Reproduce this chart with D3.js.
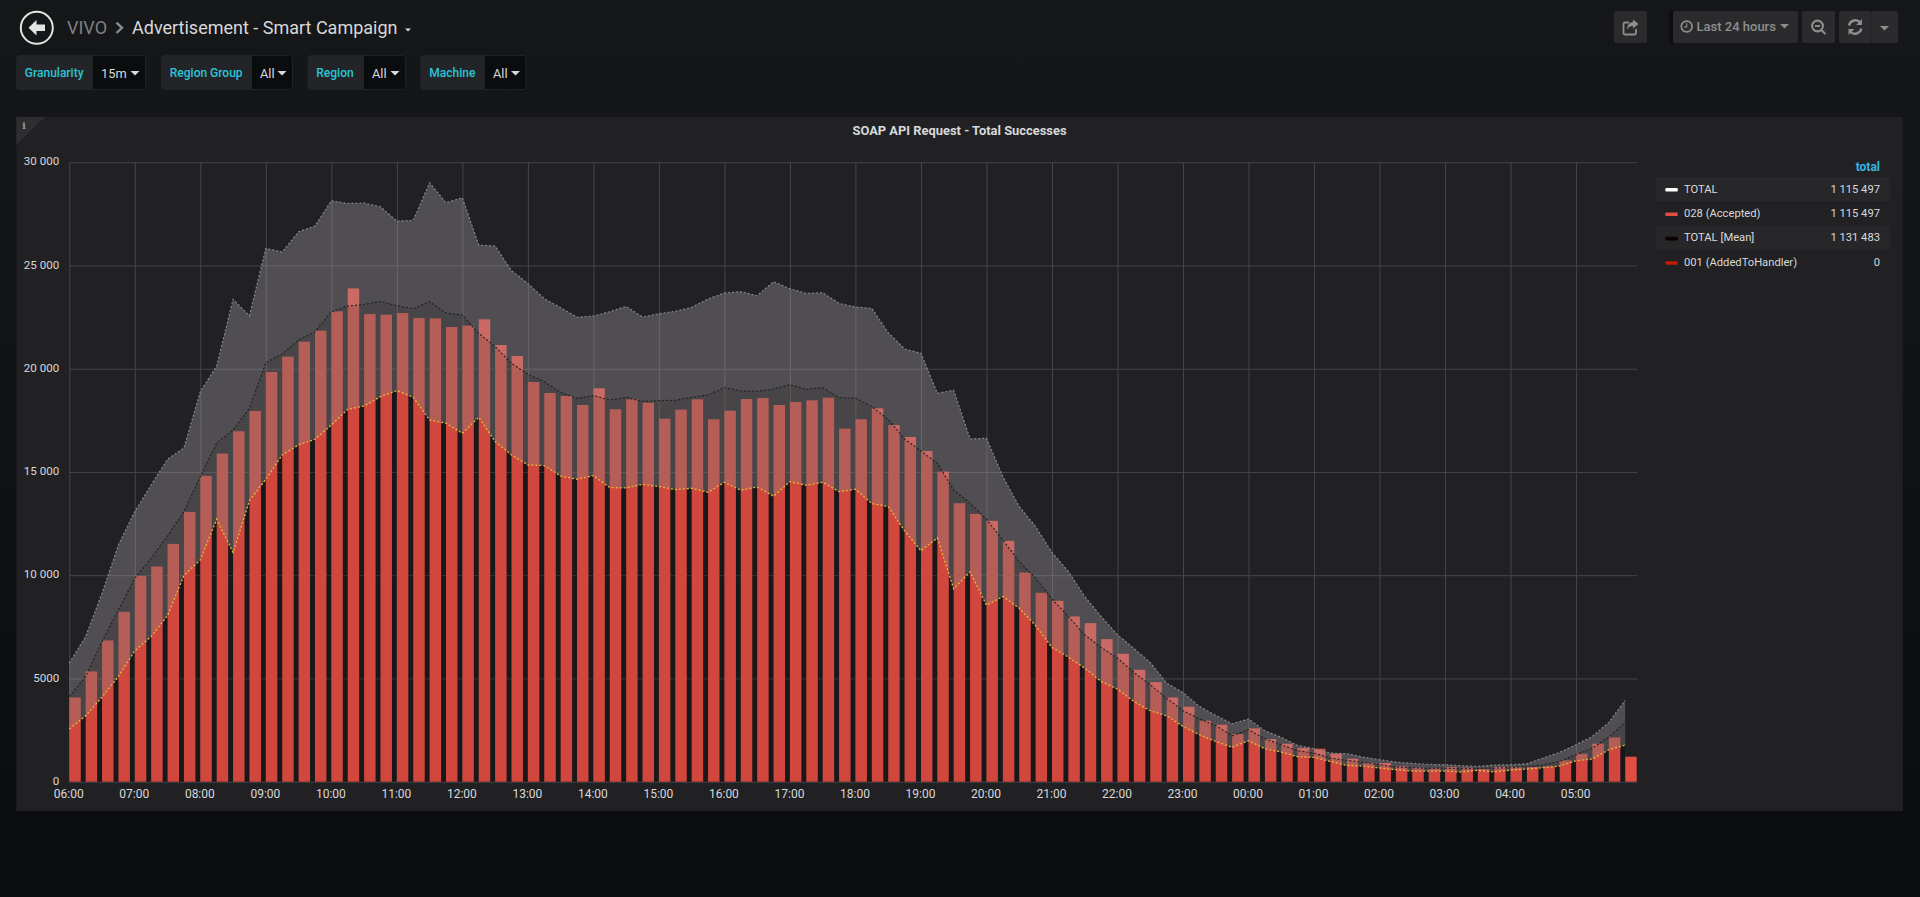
<!DOCTYPE html>
<html>
<head>
<meta charset="utf-8">
<title>SOAP API Request - Total Successes</title>
<script src="https://cdn.jsdelivr.net/npm/d3@7"></script>
<style>
	html, body { margin: 0; padding: 0; overflow: hidden; background: #0b0c0e; }
	text { font-family: Roboto, "Noto Sans", sans-serif; }
</style>
</head>
<body>
<div id="div"></div>
<script>
// Chart values
let hourLabels = ["06:00","07:00","08:00","09:00","10:00","11:00","12:00","13:00","14:00","15:00","16:00","17:00","18:00","19:00","20:00","21:00","22:00","23:00","00:00","01:00","02:00","03:00","04:00","05:00"]
let yTicks = [0, 5000, 10000, 15000, 20000, 25000, 30000]
let yTickLabels = ["0", "5000", "10 000", "15 000", "20 000", "25 000", "30 000"]

let totals = [4080,5340,6840,8226,9968,10420,11517,13065,14807,15890,16970,17953,19840,20582,21308,21840,22776,23888,22646,22615,22695,22453,22437,22018,22083,22390,21147,20614,19356,18824,18679,18243,19050,18034,18518,18355,17580,18016,18518,17551,17967,18533,18582,18243,18388,18470,18597,17096,17551,18083,17275,16695,16017,15017,13485,12969,12630,11662,10130,9146,8759,8000,7678,6904,6194,5420,4823,4080,3629,2952,2758,2307,2581,2065,1839,1629,1597,1355,1113,903,903,742,677,645,710,677,613,710,710,710,742,1032,1355,1839,2145,1210]

let lowerBand = [2549,3194,4098,5097,6339,7032,8049,9984,10743,12711,11097,13613,14646,15824,16308,16583,17275,18034,18195,18647,18938,18614,17517,17356,16873,17646,16469,15824,15340,15308,14807,14646,14824,14243,14226,14404,14291,14146,14210,14016,14501,14113,14275,13823,14533,14355,14501,14049,14162,13469,13324,12150,11178,11807,9339,10162,8549,8968,8403,7560,6500,6033,5500,4855,4484,3887,3436,3194,2677,2274,1952,1662,1984,1597,1436,1210,1177,984,790,758,661,581,516,516,516,468,548,468,565,613,677,758,1016,1097,1548,1774]

let meanBand = [4129,5097,6790,8323,9855,10823,11904,13082,14775,16400,17033,18083,20292,20711,21389,21792,22760,23034,23114,23260,23050,22905,23244,22695,22598,21711,21066,20260,19727,19372,18856,18566,18695,18485,18614,18420,18453,18469,18614,18727,19082,18920,18904,19018,19227,19001,19082,18598,18582,18163,17550,16600,16017,15420,14130,13485,12710,11700,10662,9855,8855,8000,7114,6500,5984,5291,4694,4048,3436,3049,2710,2226,2516,2081,1790,1500,1387,1145,1032,935,823,710,677,645,661,629,645,661,677,742,823,984,1306,1629,2161,2871]

let upperBand = [5742,7032,9129,11468,13082,14372,15615,16162,18888,20130,23357,22565,25824,25647,26630,26905,28130,28001,28018,27840,27147,27180,29001,28034,28276,25985,25937,24744,24131,23389,22953,22487,22550,22760,23018,22502,22663,22776,22970,23373,23663,23728,23534,24212,23873,23647,23679,23163,22986,22921,21743,20960,20744,18808,18953,16598,16630,14775,13324,12356,11100,10178,8968,8000,7114,6450,5770,4774,4323,3646,3210,2807,3033,2468,2145,1758,1597,1387,1355,1194,1065,952,887,839,823,774,742,806,823,871,1145,1419,1790,2194,2871,3936]

let legendNames = ["TOTAL", "028 (Accepted)", "TOTAL [Mean]", "001 (AddedToHandler)"]
let legendTotals = ["1 115 497", "1 115 497", "1 131 483", "0"]
let legendColors = ["#ffffff", "#e24d42", "#0a0203", "#bf1b00"]

let varNames = ["Granularity", "Region Group", "Region", "Machine"]
let varValues = ["15m", "All", "All", "All"]

let w = 1920, h = 897,
	margins = {left: 69.3, right: 1637.2, top: 162.2, bottom: 781.7},
	fifteenMin = 15 * 60 * 1000,
	start = new Date(2024, 0, 1, 6, 0),
	textColor = "#d8d9da"

let svg = d3.select("#div").append("svg")
	.attr("width", w)
	.attr("height", h)
	.style("display", "block")

let defs = svg.append("defs")
let pageGrad = defs.append("linearGradient")
	.attr("id", "page")
	.attr("x1", 0).attr("x2", 0).attr("y1", 0).attr("y2", 1)
pageGrad.append("stop").attr("offset", "0%").attr("stop-color", "#161719")
pageGrad.append("stop").attr("offset", "100%").attr("stop-color", "#0b0c0e")

svg.append("rect")
	.attr("width", w)
	.attr("height", h)
	.attr("fill", "url(#page)")

// ---- Header ----
let header = svg.append("g")

header.append("circle")
	.attr("cx", 36.8).attr("cy", 27.8).attr("r", 16)
	.attr("fill", "none")
	.attr("stroke", "#e3e4e4")
	.attr("stroke-width", 2)
header.append("path")
	.attr("d", "M28.5 27.8 L36.5 20 L36.5 24.6 L45 24.6 L45 31 L36.5 31 L36.5 35.6 Z")
	.attr("fill", "#e3e4e4")

header.append("text")
	.attr("x", 67).attr("y", 33.6)
	.attr("font-size", 18)
	.attr("fill", "#7f8083")
	.text("VIVO")
header.append("path")
	.attr("d", "M116.5 22.6 L122 27.8 L116.5 33")
	.attr("fill", "none")
	.attr("stroke", "#8a8b8e")
	.attr("stroke-width", 2.4)
header.append("text")
	.attr("x", 132).attr("y", 33.6)
	.attr("font-size", 18)
	.attr("fill", textColor)
	.text("Advertisement - Smart Campaign")
header.append("path")
	.attr("d", "M405 28.4 h6 l-3 3 Z")
	.attr("fill", textColor)

// Template variable dropdowns
let varBoxes = [[16.5, 93, 145.5], [161.5, 252, 292.5], [308, 364, 405.5], [421, 485, 526]]
varNames.forEach((name, i) => {
	let b = varBoxes[i],
		g = svg.append("g")
	g.append("rect")
		.attr("x", b[0]).attr("y", 55.5)
		.attr("width", b[2] - b[0]).attr("height", 34)
		.attr("rx", 3)
		.attr("fill", "#0b0c0e")
		.attr("stroke", "#202226")
	g.append("path")
		.attr("d", `M${b[1]} 55.5 H${b[0] + 3} Q${b[0]} 55.5 ${b[0]} 58.5 V86.5 Q${b[0]} 89.5 ${b[0] + 3} 89.5 H${b[1]} Z`)
		.attr("fill", "#232427")
	g.append("text")
		.attr("x", b[0] + 8.3).attr("y", 76.8)
		.attr("font-size", 12)
		.attr("font-weight", 500)
		.attr("fill", "#2bc4d8")
		.text(name)
	g.append("text")
		.attr("x", b[1] + 8).attr("y", 77.5)
		.attr("font-size", 12.8)
		.attr("fill", textColor)
		.text(varValues[i])
	g.append("path")
		.attr("d", `M${b[2] - 15} 71 h9 l-4.5 4.5 Z`)
		.attr("fill", textColor)
})

// Toolbar buttons on the right
let buttonColor = "#2b2b2e", iconColor = "#8e8e8e"
let toolbar = svg.append("g")
let buttons = [[1614, 33], [1673, 125], [1802, 33], [1839, 32], [1871, 27]]
toolbar.append("rect")
	.attr("x", 1669).attr("y", 11).attr("width", 4).attr("height", 32)
	.attr("fill", "#0c0d0f")
toolbar.selectAll("rect.btn")
	.data(buttons)
	.enter()
	.append("rect")
	.attr("class", "btn")
	.attr("x", d => d[0]).attr("y", 11)
	.attr("width", d => d[1]).attr("height", 32)
	.attr("rx", 2)
	.attr("fill", buttonColor)

// share
toolbar.append("path")
	.attr("d", "M1636 29 v4 a1.5 1.5 0 0 1 -1.5 1.5 h-9.5 a1.5 1.5 0 0 1 -1.5 -1.5 v-9 a1.5 1.5 0 0 1 1.5 -1.5 h4")
	.attr("fill", "none").attr("stroke", iconColor).attr("stroke-width", 1.8)
toolbar.append("path")
	.attr("d", "M1633 19.5 L1638.5 24 L1633 28.5 V26 C1630 26 1628 27 1627 30 C1627 25.5 1629 22.5 1633 22 Z")
	.attr("fill", iconColor)
// clock
toolbar.append("circle")
	.attr("cx", 1686.7).attr("cy", 26.5).attr("r", 5.4)
	.attr("fill", "none").attr("stroke", iconColor).attr("stroke-width", 1.7)
toolbar.append("path")
	.attr("d", "M1686.7 23.3 V27 H1684")
	.attr("fill", "none").attr("stroke", iconColor).attr("stroke-width", 1.2)
toolbar.append("text")
	.attr("x", 1696.5).attr("y", 31.2)
	.attr("font-size", 13)
	.attr("font-weight", 500)
	.attr("fill", "#8e8e8e")
	.text("Last 24 hours")
toolbar.append("path")
	.attr("d", "M1780 24 h9 l-4.5 4.5 Z")
	.attr("fill", iconColor)
// zoom out
toolbar.append("circle")
	.attr("cx", 1817.5).attr("cy", 26).attr("r", 5.4)
	.attr("fill", "none").attr("stroke", iconColor).attr("stroke-width", 2.1)
toolbar.append("path")
	.attr("d", "M1815 26 h5 M1821.3 30 L1825.5 34")
	.attr("fill", "none").attr("stroke", iconColor).attr("stroke-width", 2.1)
// refresh
toolbar.append("path")
	.attr("d", "M1849 25.5 a6.6 6.6 0 0 1 11.4 -3 M1861.4 28.5 a6.6 6.6 0 0 1 -11.4 3")
	.attr("fill", "none").attr("stroke", iconColor).attr("stroke-width", 2.4)
toolbar.append("path")
	.attr("d", "M1862 19 v6 h-6 Z M1848.5 35 v-6 h6 Z")
	.attr("fill", iconColor)
toolbar.append("path")
	.attr("d", "M1880 26 h9 l-4.5 4.5 Z")
	.attr("fill", iconColor)
toolbar.append("rect")
	.attr("x", 1870.5).attr("y", 11).attr("width", 1).attr("height", 32)
	.attr("fill", "#232326")

// ---- Panel ----
svg.append("rect")
	.attr("x", 16.4).attr("y", 117)
	.attr("width", 1886.4).attr("height", 694)
	.attr("fill", "#212124")
svg.append("path")
	.attr("d", "M16.4 117 H45 L16.4 145 Z")
	.attr("fill", "#2e2e31")
svg.append("text")
	.attr("x", 24).attr("y", 129)
	.attr("text-anchor", "middle")
	.style("font-family", "'DejaVu Serif', serif")
	.attr("font-size", 9)
	.attr("font-weight", "bold")
	.attr("fill", "#a0a0a0")
	.text("i")

svg.append("text")
	.attr("x", 959.5).attr("y", 134.5)
	.attr("text-anchor", "middle")
	.attr("font-size", 12.9)
	.attr("font-weight", 700)
	.attr("fill", textColor)
	.text("SOAP API Request - Total Successes")

// ---- Scales and axes ----
let toDate = i => new Date(start.getTime() + i * fifteenMin)
let times = totals.map((d, i) => toDate(i))
let hourTicks = hourLabels.map((d, i) => toDate(i * 4))

let x = d3.scaleTime()
	.domain([start, new Date(start.getTime() + 23.933 * 3600 * 1000)])
	.range([margins.left, margins.right])
let y = d3.scaleLinear()
	.domain([0, 30000])
	.range([margins.bottom, margins.top])

let xAxis = d3.axisBottom(x)
	.tickValues(hourTicks)
	.tickSize(-(margins.bottom - margins.top))
	.tickPadding(8)
	.tickFormat((d, i) => hourLabels[i])
let yAxis = d3.axisLeft(y)
	.tickValues(yTicks)
	.tickSize(-(margins.right - margins.left))
	.tickPadding(10)
	.tickFormat((d, i) => yTickLabels[i])

let styleAxis = (g, size) => {
	g.select(".domain").remove()
	g.selectAll("line").attr("stroke", "#464648").attr("stroke-width", 1)
	g.selectAll("text")
		.attr("fill", textColor)
		.attr("font-size", size)
}

svg.append("g")
	.attr("transform", "translate(0, " + margins.bottom + ")")
	.call(xAxis)
	.call(styleAxis, 12)
	.selectAll("text").attr("dx", -1)
svg.append("g")
	.attr("transform", "translate(" + margins.left + ", 0)")
	.call(yAxis)
	.call(styleAxis, 11.6)
	.selectAll("text").attr("dy", "0.32em").attr("y", -1)

// ---- Bands and bars ----
let bandArea = (lo, hi) => d3.area()
	.x((d, i) => x(times[i]))
	.y0((d, i) => y(lo[i]))
	.y1((d, i) => y(hi[i]))

let zeros = totals.map(() => 0)

// shade behind the bars, darkens the gaps under the lower line
svg.append("path")
	.attr("d", bandArea(zeros, lowerBand)(totals))
	.attr("fill", "#000")
	.attr("fill-opacity", 0.17)

let barWidth = x(new Date(start.getTime() + 10.5 * 60 * 1000)) - x(start)
svg.append("g")
	.selectAll("rect")
	.data(totals)
	.enter()
	.append("rect")
	.attr("x", (d, i) => x(times[i]))
	.attr("y", d => y(d))
	.attr("width", barWidth)
	.attr("height", d => y(0) - y(d))
	.attr("fill", "#e24d42")

svg.append("path")
	.attr("d", bandArea(zeros, lowerBand)(totals))
	.attr("fill", "#000")
	.attr("fill-opacity", 0.075)
svg.append("path")
	.attr("d", bandArea(lowerBand, meanBand)(totals))
	.attr("fill", "rgb(122,118,118)")
	.attr("fill-opacity", 0.435)
svg.append("path")
	.attr("d", bandArea(meanBand, upperBand)(totals))
	.attr("fill", "rgb(162,158,162)")
	.attr("fill-opacity", 0.37)

let bandLine = values => d3.line()
	.x((d, i) => x(times[i]))
	.y(d => y(d))(values)

svg.append("path")
	.attr("d", bandLine(upperBand))
	.attr("fill", "none")
	.attr("stroke", "#88888a")
	.attr("stroke-width", 1.2)
	.attr("stroke-dasharray", "2 2")
svg.append("path")
	.attr("d", bandLine(meanBand))
	.attr("fill", "none")
	.attr("stroke", "#242222")
	.attr("stroke-width", 1.2)
	.attr("stroke-dasharray", "2 2")
svg.append("path")
	.attr("d", bandLine(lowerBand))
	.attr("fill", "none")
	.attr("stroke", "#eab839")
	.attr("stroke-width", 1.3)
	.attr("stroke-dasharray", "2 2")

// ---- Legend ----
svg.append("text")
	.attr("x", 1880).attr("y", 170.5)
	.attr("text-anchor", "end")
	.attr("font-size", 12)
	.attr("font-weight", 700)
	.attr("fill", "#33b5e5")
	.text("total")

let rowY = i => 177 + i * 24.4
let legend = svg.append("g")
	.selectAll("g")
	.data(legendNames)
	.enter()
	.append("g")

legend.append("rect")
	.attr("x", 1656).attr("y", (d, i) => rowY(i))
	.attr("width", 234).attr("height", 24)
	.attr("fill", (d, i) => i % 2 == 0 ? "#27272a" : "none")
legend.append("rect")
	.attr("x", 1665.3).attr("y", (d, i) => rowY(i) + 11)
	.attr("width", 12.5).attr("height", 3.6)
	.attr("rx", 1)
	.attr("fill", (d, i) => legendColors[i])
legend.append("text")
	.attr("x", 1684).attr("y", (d, i) => rowY(i) + 15.5)
	.attr("font-size", 11.2)
	.attr("fill", textColor)
	.text(d => d)
legend.append("text")
	.attr("x", 1880).attr("y", (d, i) => rowY(i) + 15.5)
	.attr("text-anchor", "end")
	.attr("font-size", 11.2)
	.attr("fill", textColor)
	.text((d, i) => legendTotals[i])
</script>
</body>
</html>
